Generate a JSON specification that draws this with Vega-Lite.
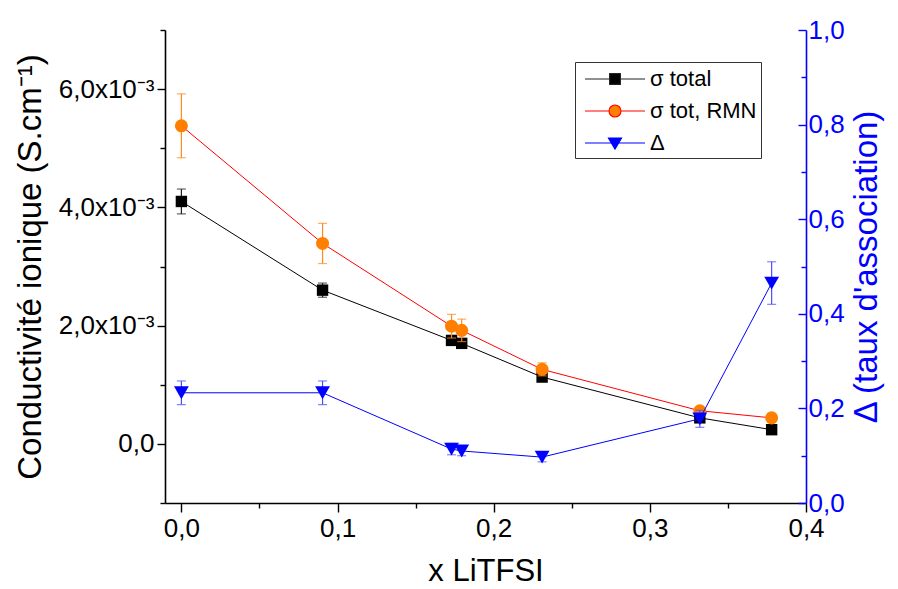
{
  "$schema": "https://vega.github.io/schema/vega-lite/v6.json",
  "width": 641,
  "height": 473,
  "autosize": "none",
  "padding": {"left": 165, "top": 30, "right": 92, "bottom": 86},
  "background": "white",
  "config": {
    "view": {"stroke": null},
    "font": "Liberation Sans",
    "axis": {
      "grid": false,
      "labelFont": "Liberation Sans",
      "titleFont": "Liberation Sans",
      "labelFontSize": 26,
      "titleFontSize": 31,
      "titleFontWeight": "normal",
      "labelColor": "black",
      "titleColor": "black",
      "domainColor": "black",
      "tickColor": "black",
      "domainWidth": 1.6,
      "tickWidth": 1.4
    }
  },
  "data": {
    "values": [
      {"series": "σ total", "x": 0.0, "y": 0.00410, "err": 0.00021},
      {"series": "σ total", "x": 0.0904, "y": 0.00260, "err": 0.00012},
      {"series": "σ total", "x": 0.173, "y": 0.00175, "err": 0.00006},
      {"series": "σ total", "x": 0.1795, "y": 0.00170, "err": 0.00006},
      {"series": "σ total", "x": 0.231, "y": 0.00113, "err": 0.00005},
      {"series": "σ total", "x": 0.332, "y": 0.00044, "err": 0.00003},
      {"series": "σ total", "x": 0.378, "y": 0.00024, "err": 0.00002},
      {"series": "σ tot, RMN", "x": 0.0, "y": 0.00538, "err": 0.00054},
      {"series": "σ tot, RMN", "x": 0.0904, "y": 0.00339, "err": 0.00034},
      {"series": "σ tot, RMN", "x": 0.173, "y": 0.00199, "err": 0.00020},
      {"series": "σ tot, RMN", "x": 0.1795, "y": 0.00192, "err": 0.00019},
      {"series": "σ tot, RMN", "x": 0.231, "y": 0.00126, "err": 0.00011},
      {"series": "σ tot, RMN", "x": 0.332, "y": 0.00056, "err": 0.00003},
      {"series": "σ tot, RMN", "x": 0.378, "y": 0.00044, "err": 0.00002},
      {"series": "Δ", "x": 0.0, "y": 0.233, "err": 0.025},
      {"series": "Δ", "x": 0.0904, "y": 0.233, "err": 0.025},
      {"series": "Δ", "x": 0.173, "y": 0.114, "err": 0.012},
      {"series": "Δ", "x": 0.1795, "y": 0.110, "err": 0.010},
      {"series": "Δ", "x": 0.231, "y": 0.097, "err": 0.010},
      {"series": "Δ", "x": 0.332, "y": 0.178, "err": 0.018},
      {"series": "Δ", "x": 0.378, "y": 0.465, "err": 0.045}
    ]
  },
  "layer": [
    {
      "encoding": {
        "x": {
          "field": "x", "type": "quantitative",
          "scale": {"domain": [-0.0105, 0.4], "nice": false, "zero": false},
          "axis": {
            "title": "x LiTFSI",
            "values": [0, 0.05, 0.1, 0.15, 0.2, 0.25, 0.3, 0.35, 0.4],
            "labelExpr": "abs(round(datum.value*20)) % 2 == 0 ? replace(format(datum.value, '.1f'), '.', ',') : ''",
            "tickSize": {"condition": {"test": "abs(round(datum.value*20)) % 2 == 0", "value": 9}, "value": 5},
            "labelPadding": 3,
            "titlePadding": 15,
            "labelFlush": false
          }
        },
        "y": {
          "field": "y", "type": "quantitative",
          "scale": {"domain": [-0.001, 0.007], "nice": false, "zero": false},
          "axis": {
            "orient": "left",
            "title": "Conductivité ionique (S.cm⁻¹)",
            "titleFontSize": 33,
            "values": [-0.001, 0, 0.001, 0.002, 0.003, 0.004, 0.005, 0.006, 0.007],
            "labelExpr": "abs(datum.value) < 1e-9 ? '0,0' : (abs(round(datum.value*1000)) % 2 == 0 ? replace(format(datum.value*1000, '.1f'), '.', ',') + 'x10⁻³' : '')",
            "tickSize": {"condition": {"test": "abs(round(datum.value*1000)) % 2 == 0", "value": 8}, "value": 5},
            "labelPadding": 3,
            "titlePadding": 11,
            "labelFlush": false
          }
        }
      },
      "layer": [
        {
          "transform": [{"filter": "datum.series == 'σ total'"}],
          "mark": {"type": "line", "color": "black", "strokeWidth": 1}
        },
        {
          "transform": [{"filter": "datum.series == 'σ total'"}],
          "mark": {"type": "errorbar", "ticks": {"size": 9}, "color": "#222222", "thickness": 1.2},
          "encoding": {"yError": {"field": "err"}}
        },
        {
          "transform": [{"filter": "datum.series == 'σ total'"}],
          "mark": {"type": "point", "shape": "square", "filled": true, "color": "black", "size": 130, "opacity": 1}
        },
        {
          "transform": [{"filter": "datum.series == 'σ tot, RMN'"}],
          "mark": {"type": "line", "color": "#FF0000", "strokeWidth": 1}
        },
        {
          "transform": [{"filter": "datum.series == 'σ tot, RMN'"}],
          "mark": {"type": "errorbar", "ticks": {"size": 9}, "color": "#FF8C1A", "thickness": 1.2},
          "encoding": {"yError": {"field": "err"}}
        },
        {
          "transform": [{"filter": "datum.series == 'σ tot, RMN'"}],
          "mark": {"type": "point", "shape": "circle", "filled": true, "color": "#FF8000", "size": 170, "opacity": 1}
        },
        {
          "transform": [{"filter": "datum.series != 'Δ'"}],
          "mark": {"type": "point", "opacity": 0},
          "encoding": {
            "shape": {
              "field": "series", "type": "nominal",
              "scale": {
                "domain": ["σ total", "σ tot, RMN", "Δ"],
                "range": [
                  "M-2.5,0H-0.45M0.45,0H2.5M-0.45,-0.45H0.45V0.45H-0.45Z",
                  "M-2.5,0H-0.5M0.5,0H2.5M-0.5,0A0.5,0.5,0,1,0,0.5,0A0.5,0.5,0,1,0,-0.5,0Z",
                  "M-2.5,0H-0.3M0.3,0H2.5M-0.55,-0.42H0.55L0,0.52Z"
                ]
              },
              "legend": {"title": null, "orient": "none", "legendX": 410, "legendY": 32, "symbolSize": 576, "symbolOffset": 23, "labelOffset": 22, "labelFontSize": 22, "labelFont": "Liberation Sans", "labelColor": "black", "padding": 4, "rowPadding": 8, "strokeColor": "#333333", "fillColor": "white", "symbolStrokeWidth": 1.1, "symbolOpacity": 1}
            },
            "fill": {
              "field": "series", "type": "nominal",
              "scale": {"domain": ["σ total", "σ tot, RMN", "Δ"], "range": ["black", "#FF8000", "#0000FF"]},
              "legend": {"title": null, "orient": "none", "legendX": 410, "legendY": 32, "symbolSize": 576, "symbolOffset": 23, "labelOffset": 22, "labelFontSize": 22, "labelFont": "Liberation Sans", "labelColor": "black", "padding": 4, "rowPadding": 8, "strokeColor": "#333333", "fillColor": "white", "symbolStrokeWidth": 1.1, "symbolOpacity": 1}
            },
            "stroke": {
              "field": "series", "type": "nominal",
              "scale": {"domain": ["σ total", "σ tot, RMN", "Δ"], "range": ["#222222", "#FF0000", "#0000FF"]},
              "legend": {"title": null, "orient": "none", "legendX": 410, "legendY": 32, "symbolSize": 576, "symbolOffset": 23, "labelOffset": 22, "labelFontSize": 22, "labelFont": "Liberation Sans", "labelColor": "black", "padding": 4, "rowPadding": 8, "strokeColor": "#333333", "fillColor": "white", "symbolStrokeWidth": 1.1, "symbolOpacity": 1}
            }
          }
        }
      ]
    },
    {
      "encoding": {
        "x": {
          "field": "x", "type": "quantitative",
          "scale": {"domain": [-0.0105, 0.4], "nice": false, "zero": false},
          "axis": {
            "title": "x LiTFSI",
            "values": [0, 0.05, 0.1, 0.15, 0.2, 0.25, 0.3, 0.35, 0.4],
            "labelExpr": "abs(round(datum.value*20)) % 2 == 0 ? replace(format(datum.value, '.1f'), '.', ',') : ''",
            "tickSize": {"condition": {"test": "abs(round(datum.value*20)) % 2 == 0", "value": 9}, "value": 5},
            "labelPadding": 3,
            "titlePadding": 15,
            "labelFlush": false
          }
        },
        "y": {
          "field": "y", "type": "quantitative",
          "scale": {"domain": [0, 1], "nice": false, "zero": false},
          "axis": {
            "orient": "right",
            "title": "Δ (taux d'association)",
            "titleFontSize": 33,
            "titleAngle": 270,
            "titleBaseline": "top",
            "values": [0, 0.1, 0.2, 0.3, 0.4, 0.5, 0.6, 0.7, 0.8, 0.9, 1.0],
            "labelExpr": "abs(round(datum.value*10)) % 2 == 0 ? replace(format(datum.value, '.1f'), '.', ',') : ''",
            "tickSize": {"condition": {"test": "abs(round(datum.value*10)) % 2 == 0", "value": -8}, "value": -5},
            "labelPadding": 10,
            "titlePadding": 6,
            "labelFlush": false,
            "domainColor": "#0000FF",
            "tickColor": "#0000FF",
            "labelColor": "#0000FF",
            "titleColor": "#0000FF"
          }
        }
      },
      "layer": [
        {
          "transform": [{"filter": "datum.series == 'Δ'"}],
          "mark": {"type": "line", "color": "#0000FF", "strokeWidth": 1}
        },
        {
          "transform": [{"filter": "datum.series == 'Δ'"}],
          "mark": {"type": "errorbar", "ticks": {"size": 9}, "color": "#4D4DFF", "thickness": 1.2},
          "encoding": {"yError": {"field": "err"}}
        },
        {
          "transform": [{"filter": "datum.series == 'Δ'"}],
          "mark": {"type": "point", "shape": "triangle-down", "filled": true, "color": "#0000FF", "size": 220, "opacity": 1}
        }
      ]
    }
  ],
  "resolve": {"scale": {"y": "independent"}}
}
